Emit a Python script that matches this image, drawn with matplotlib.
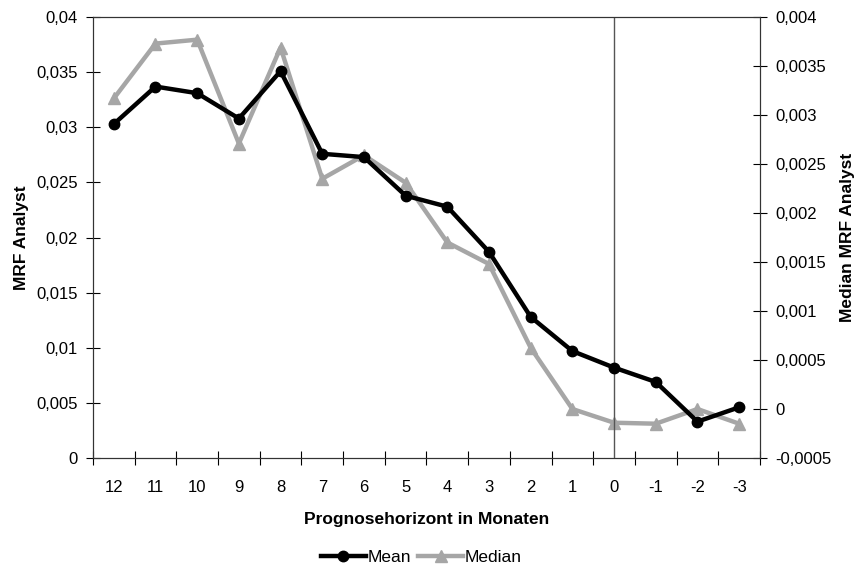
import numpy as np
import matplotlib
matplotlib.use('Agg')
from matplotlib import pyplot as plt
from matplotlib.ticker import FuncFormatter

plt.rcParams['font.family'] = ['Liberation Sans', 'DejaVu Sans']

# Daten
horizont = ['12', '11', '10', '9', '8', '7', '6', '5', '4', '3', '2', '1', '0', '-1', '-2', '-3']
mean_mrf = [0.0303, 0.0337, 0.0331, 0.0308, 0.0351, 0.0276, 0.0273, 0.0238, 0.0228,
            0.0187, 0.0128, 0.0097, 0.0082, 0.0069, 0.0033, 0.0046]
median_mrf = [0.00317, 0.00373, 0.00377, 0.00271, 0.00369, 0.00235, 0.00259, 0.00231, 0.00170,
              0.00148, 0.000625, 0.0, -0.00014, -0.00015, 0.0, -0.00015]

x = np.arange(len(horizont))


def komma(v, pos):
    if abs(v) < 1e-12:
        return '0'
    s = ('%.4f' % v).rstrip('0').rstrip('.')
    return s.replace('.', ',')


fig = plt.figure(figsize=(8.6, 5.71), dpi=100)
ax = fig.add_axes([0.1081, 0.1979, 0.7756, 0.7721])
ax2 = ax.twinx()

l1, = ax.plot(x, mean_mrf, color='black', lw=3.2, marker='o', ms=7.5, label='Mean', zorder=3)
l2, = ax2.plot(x, median_mrf, color='#a6a6a6', lw=3.2, marker='^', ms=8.5, label='Median', zorder=2)
ax.set_zorder(ax2.get_zorder() + 1)
ax.patch.set_visible(False)

ax.axvline(12, color='#555555', lw=1.0, zorder=1)

ax.set_xlim(-0.5, len(horizont) - 0.5)
ax.set_ylim(0, 0.04)
ax2.set_ylim(-0.0005, 0.004)

ax.set_yticks(np.arange(0, 0.0401, 0.005))
ax2.set_yticks(np.arange(-0.0005, 0.00401, 0.0005))
ax.yaxis.set_major_formatter(FuncFormatter(komma))
ax2.yaxis.set_major_formatter(FuncFormatter(komma))

# Kategorien-Achse: Striche zwischen den Kategorien
ax.set_xticks(np.arange(-0.5, len(horizont), 1.0))
ax.set_xticklabels([])
ax.set_xticks(x, minor=True)
ax.set_xticklabels(horizont, minor=True)
ax.tick_params(axis='x', which='major', direction='inout', length=10, width=0.8)
ax.tick_params(axis='x', which='minor', length=0, labelsize=12, pad=16)
ax.tick_params(axis='y', direction='inout', length=10, width=0.8, labelsize=12, pad=6)
ax2.tick_params(axis='y', direction='inout', length=10, width=0.8, labelsize=12, pad=6)

for a in (ax, ax2):
    for s in a.spines.values():
        s.set_linewidth(0.8)
        s.set_color('#333333')

ax.set_ylabel('MRF Analyst', fontsize=12.5, fontweight='bold', labelpad=5)
ax2.set_ylabel('Median MRF Analyst', fontsize=12.5, fontweight='bold', labelpad=6)
ax.set_xlabel('Prognosehorizont in Monaten', fontsize=12.5, fontweight='bold', labelpad=12)

fig.legend([l1, l2], ['Mean', 'Median'], loc='center', bbox_to_anchor=(0.49, 0.024),
           ncol=2, frameon=False, fontsize=12.5, handlelength=2.6, handletextpad=0.1,
           columnspacing=0.4)

plt.savefig('out.png', dpi=100)
